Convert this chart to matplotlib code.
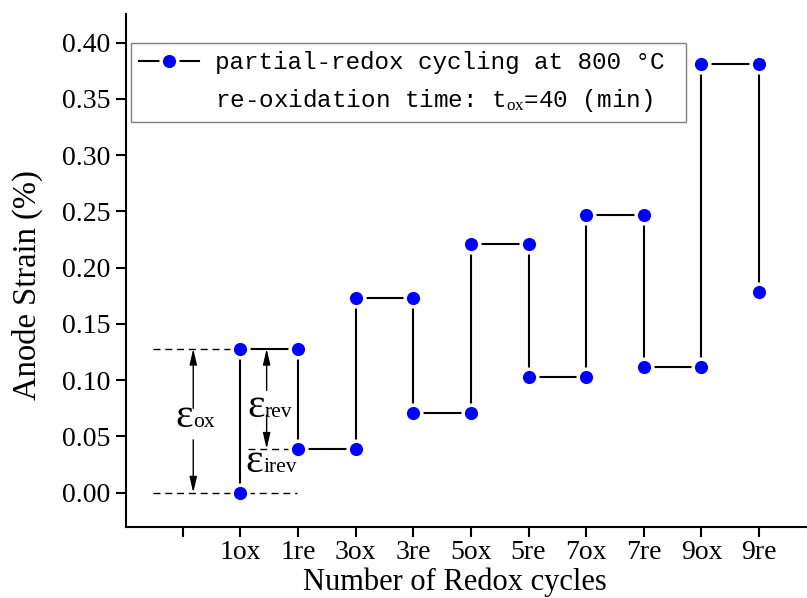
import numpy as np
import matplotlib
matplotlib.use("Agg")
import matplotlib.pyplot as plt
from matplotlib.lines import Line2D
from matplotlib.font_manager import FontProperties

# ---- data ----
tick_labels = ['1ox', '1re', '3ox', '3re', '5ox', '5re', '7ox', '7re', '9ox', '9re']
positions = [2, 3, 4, 5, 6, 7, 8, 9, 10, 11]
# strain level reached after each step (first value is the starting level)
levels = [0.000, 0.128, 0.039, 0.173, 0.071, 0.221, 0.103, 0.247, 0.112, 0.381, 0.178]
y_ticks = [0.00, 0.05, 0.10, 0.15, 0.20, 0.25, 0.30, 0.35, 0.40]

plt.rcParams['font.family'] = ['Liberation Serif', 'DejaVu Serif']
plt.rcParams['mathtext.fontset'] = 'custom'
plt.rcParams['mathtext.rm'] = 'Liberation Serif'
plt.rcParams['mathtext.it'] = 'Liberation Serif:italic'

BLUE = '#0000FF'

# build step path: at each x the strain jumps from previous level to next level
xs, ys = [], []
for i, p in enumerate(positions):
    xs += [p, p]
    ys += [levels[i], levels[i + 1]]

fig = plt.figure(figsize=(8.07, 5.98), dpi=100)
ax = fig.add_axes([0.1561, 0.1192, 0.8439, 0.8574])

# dashed guide lines
dash_kw = dict(color='k', lw=1.0, ls=(0, (5, 3.5)), zorder=1)
ax.plot([0.49, positions[0]], [levels[1], levels[1]], **dash_kw)
ax.plot([0.49, 2.98], [levels[0], levels[0]], **dash_kw)
ax.plot([2.14, positions[1]], [levels[2], levels[2]], **dash_kw)

# main series
ax.plot(xs, ys, color='k', lw=1.5, marker='o', ms=12, mfc=BLUE, mec='white',
        mew=2.5, zorder=3)

# arrows
arr = dict(arrowstyle='-|>,head_length=0.95,head_width=0.22', color='k', lw=1.0,
           mutation_scale=10, shrinkA=0, shrinkB=0)
x_ox = 1.184
ax.annotate('', xy=(x_ox, levels[1]), xytext=(x_ox, 0.075), arrowprops=arr)
ax.annotate('', xy=(x_ox, levels[0]), xytext=(x_ox, 0.047), arrowprops=arr)
x_rev = 2.457
ax.annotate('', xy=(x_rev, levels[1]), xytext=(x_rev, 0.091), arrowprops=arr)
ax.annotate('', xy=(x_rev, levels[2]), xytext=(x_rev, 0.069), arrowprops=arr)

# epsilon labels
def eps_label(x, y, sub):
    ax.text(x, y, '\u03b5', fontsize=30, ha='right', va='baseline', zorder=4)
    ax.text(x, y, sub, fontsize=15.5, ha='left', va='baseline', zorder=4)

eps_label(1.184, 0.0587, 'ox')
eps_label(2.427, 0.067, 'rev')
eps_label(2.398, 0.0187, 'irev')

# axes styling
ax.set_xlim(0.017, 11.83)
ax.set_ylim(-0.0302, 0.4255)
ax.spines['top'].set_visible(False)
ax.spines['right'].set_visible(False)
for s in ('left', 'bottom'):
    ax.spines[s].set_linewidth(1.5)

ax.set_xticks([1] + positions)
ax.set_xticklabels([''] + tick_labels)
ax.set_yticks(y_ticks)
ax.set_yticklabels(['%.2f' % v for v in y_ticks])
ax.tick_params(axis='both', direction='out', length=7.5, width=1.5, labelsize=20)
ax.tick_params(axis='x', pad=2)
ax.tick_params(axis='y', pad=4)

ax.set_xlabel('Number of Redox cycles', fontsize=22, va='baseline')
ax.xaxis.set_label_coords(0.483, -0.1235)
ax.set_ylabel('Anode Strain (%)', fontsize=23.5, va='center')
ax.yaxis.set_label_coords(-0.145, 0.4714)

# legend
handles = [Line2D([], [], color='k', lw=1.5, marker='o', ms=12, mfc=BLUE,
                  mec='white', mew=2.5),
           Line2D([], [], color='none')]
labels = ['partial-redox cycling at 800 \u00b0C',
          're-oxidation time: t$_{\\rm ox}$=40 (min)']
leg = ax.legend(handles, labels, loc='upper left', mode='expand',
                bbox_to_anchor=(0.0069, 0.5, 0.815, 0.444), borderaxespad=0,
                prop=FontProperties(family='Liberation Mono', size=17.5),
                handlelength=2.47, handletextpad=0.62, borderpad=0.36,
                labelspacing=0.5, fancybox=False, edgecolor='#808080',
                framealpha=1)
leg.get_frame().set_linewidth(1.0)

fig.savefig('out.png', dpi=100)
